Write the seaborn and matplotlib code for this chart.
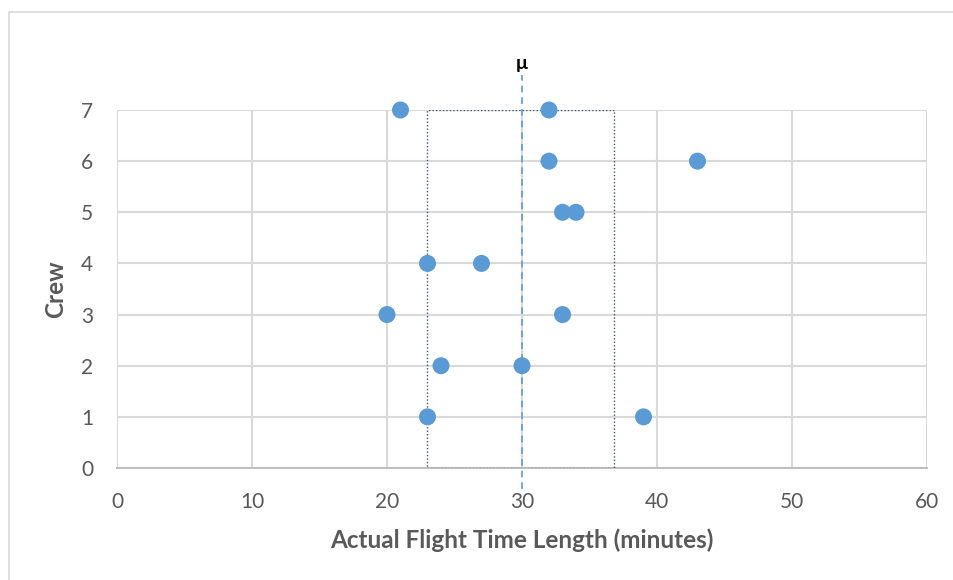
"""Crew flight time scatter with mean line and spread box."""

import matplotlib.pyplot as plt
import seaborn as sns
import pandas as pd
from matplotlib.patches import Rectangle

# data
crew = [7, 7, 6, 6, 5, 5, 4, 4, 3, 3, 2, 2, 1, 1]
flight_minutes = [21, 32, 32, 43, 33, 34, 23, 27, 20, 33, 24, 30, 23, 39]
mean_line = 30
box_left = 23
box_right = 36.8
x_ticks = [0, 10, 20, 30, 40, 50, 60]
y_ticks = [0, 1, 2, 3, 4, 5, 6, 7]

df = pd.DataFrame({"minutes": flight_minutes, "crew": crew})

sns.set_style("white")
plt.rcParams["font.family"] = ["Lato", "DejaVu Sans"]

text_col = "#595959"
grid_col = "#D9D9D9"
dot_col = "#5B9BD5"

fig = plt.figure(figsize=(9.54, 5.8), dpi=100)
ax = fig.add_axes([117 / 954, 1 - 468 / 580, 810 / 954, 358 / 580])

# outer chart frame (only left/top edges show in the crop)
fig.patches.append(Rectangle((9 / 954, -0.05), 1.1, 1 - 12 / 580 + 0.05,
                             transform=fig.transFigure, fill=False,
                             edgecolor="#D9D9D9", lw=1.2))

ax.set_xlim(0, 60)
ax.set_ylim(0, 7)
ax.set_xticks(x_ticks)
ax.set_yticks(y_ticks)
ax.grid(True, color=grid_col, lw=1.5)
ax.set_axisbelow(True)
for side in ("top", "right", "left"):
    ax.spines[side].set_visible(False)
ax.spines["bottom"].set_color("#BFBFBF")
ax.spines["bottom"].set_linewidth(1.5)
ax.tick_params(length=0, labelsize=15, labelcolor=text_col)
ax.tick_params(axis="x", pad=17)
ax.tick_params(axis="y", pad=17)

ax.add_patch(Rectangle((box_left, 0), box_right - box_left, 7, fill=False,
                       edgecolor="#44546A", ls=(0, (1, 1.5)), lw=1.0, zorder=3))
ax.plot([mean_line, mean_line], [-0.42, 7.68], color=dot_col, ls=(0, (4, 3)),
        lw=1.2, clip_on=False, zorder=3)
ax.text(mean_line, 7.75, "μ", ha="center", va="bottom", fontsize=14,
        fontweight="bold", color="black")

sns.scatterplot(data=df, x="minutes", y="crew", ax=ax, s=150, color=dot_col,
                edgecolor="none", zorder=4, clip_on=False)

ax.set_xlabel("Actual Flight Time Length (minutes)", fontsize=17.5,
              fontweight="bold", color=text_col, labelpad=12)
ax.set_ylabel("Crew", fontsize=17.5, fontweight="bold", color=text_col, labelpad=10)

fig.savefig("out.png", dpi=100)
